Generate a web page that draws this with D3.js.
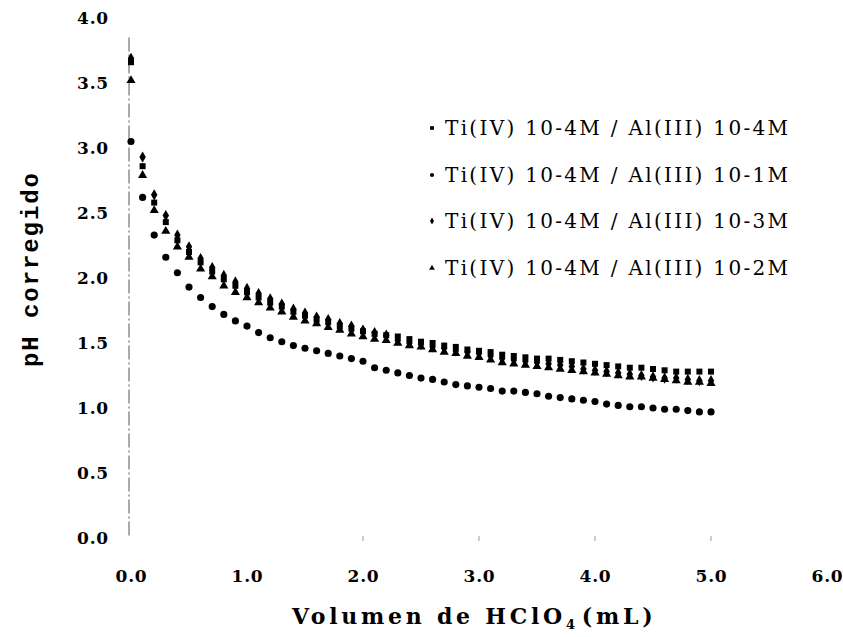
<!DOCTYPE html>
<html><head><meta charset="utf-8">
<script src="https://cdn.jsdelivr.net/npm/d3@7"></script>
<style>body{margin:0;background:#fff}svg{display:block}</style>
</head><body>
<script>
const xVals = [0.0,0.1,0.2,0.3,0.4,0.5,0.6,0.7,0.8,0.9,1.0,1.1,1.2,1.3,1.4,1.5,1.6,1.7,1.8,1.9,2.0,2.1,2.2,2.3,2.4,2.5,2.6,2.7,2.8,2.9,3.0,3.1,3.2,3.3,3.4,3.5,3.6,3.7,3.8,3.9,4.0,4.1,4.2,4.3,4.4,4.5,4.6,4.7,4.8,4.9,5.0];
const seriesNames = ["Ti(IV) 10-4M / Al(III) 10-4M","Ti(IV) 10-4M / Al(III) 10-1M","Ti(IV) 10-4M / Al(III) 10-3M","Ti(IV) 10-4M / Al(III) 10-2M"];
const al4 = [3.66,2.86,2.58,2.43,2.29,2.20,2.12,2.05,1.99,1.94,1.89,1.85,1.81,1.78,1.74,1.71,1.68,1.66,1.63,1.61,1.59,1.57,1.56,1.55,1.53,1.51,1.50,1.48,1.47,1.45,1.44,1.43,1.41,1.40,1.39,1.38,1.38,1.37,1.36,1.35,1.34,1.33,1.32,1.31,1.31,1.30,1.29,1.28,1.28,1.28,1.28];
const al1 = [3.05,2.62,2.33,2.16,2.04,1.93,1.85,1.78,1.72,1.67,1.63,1.58,1.54,1.51,1.48,1.46,1.44,1.42,1.40,1.38,1.36,1.31,1.29,1.27,1.25,1.23,1.22,1.20,1.18,1.17,1.16,1.15,1.13,1.13,1.12,1.11,1.09,1.08,1.07,1.06,1.05,1.03,1.02,1.01,1.01,1.00,0.99,0.99,0.98,0.97,0.97];
const al3 = [3.69,2.93,2.64,2.48,2.33,2.24,2.15,2.08,2.02,1.97,1.92,1.88,1.84,1.80,1.76,1.73,1.70,1.68,1.65,1.63,1.60,1.58,1.56,1.52,1.50,1.49,1.47,1.46,1.44,1.43,1.42,1.40,1.38,1.37,1.36,1.35,1.34,1.33,1.32,1.30,1.29,1.28,1.27,1.26,1.25,1.24,1.23,1.23,1.22,1.21,1.21];
const al2 = [3.52,2.79,2.52,2.36,2.24,2.16,2.07,2.01,1.94,1.89,1.85,1.81,1.77,1.74,1.70,1.67,1.65,1.62,1.60,1.57,1.55,1.53,1.52,1.50,1.48,1.47,1.45,1.43,1.42,1.40,1.39,1.37,1.35,1.34,1.33,1.32,1.31,1.30,1.29,1.28,1.27,1.26,1.25,1.24,1.24,1.23,1.22,1.21,1.20,1.20,1.19];
const xTicks = [0,1,2,3,4,5,6];
const yTicks = [0,0.5,1,1.5,2,2.5,3,3.5,4];

const W = 843, H = 637;
const svg = d3.select("body").append("svg").attr("width", W).attr("height", H);
const x = d3.scaleLinear().domain([0, 6]).range([131, 827]);
const y = d3.scaleLinear().domain([0, 4]).range([538, 18]);

const serif = "'DejaVu Serif', serif";

// y axis dashed line
svg.append("line").attr("x1", 129).attr("x2", 129).attr("y1", y(3.85)).attr("y2", y(0))
  .attr("stroke", "#555").attr("stroke-width", 1).attr("stroke-dasharray", "14,3,2,3");

// faint x ticks
svg.append("g").selectAll("line").data([2,3,4,5]).join("line")
  .attr("x1", d => x(d)).attr("x2", d => x(d)).attr("y1", y(0) - 2).attr("y2", y(0) + 3)
  .attr("stroke", "#999").attr("stroke-width", 1);

const yAxis = svg.append("g").attr("transform", "translate(131,0)")
  .call(d3.axisLeft(y).tickValues(yTicks).tickSize(0).tickPadding(22).tickFormat(d3.format(".1f")));
yAxis.select(".domain").remove();
yAxis.selectAll("text").attr("font-family", serif).attr("font-weight", "bold").attr("font-size", 17)
  .attr("letter-spacing", 0.8).attr("fill", "#000");

const xAxis = svg.append("g").attr("transform", "translate(0,538)")
  .call(d3.axisBottom(x).tickValues(xTicks).tickSize(0).tickPadding(32).tickFormat(d3.format(".1f")));
xAxis.select(".domain").remove();
xAxis.selectAll("text").attr("font-family", serif).attr("font-weight", "bold").attr("font-size", 17)
  .attr("letter-spacing", 0.8).attr("fill", "#000");

// titles
svg.append("text").attr("transform", "translate(38,270) rotate(-90)").attr("text-anchor", "middle")
  .attr("font-family", "'Liberation Mono', monospace").attr("font-weight", "bold").attr("font-size", 24)
  .attr("textLength", 194).attr("lengthAdjust", "spacing").text("pH corregido");

const xt = svg.append("text").attr("x", 292).attr("y", 624)
  .attr("font-family", serif).attr("font-weight", "bold").attr("font-size", 22);
xt.append("tspan").text("Volumen de HClO");
xt.append("tspan").attr("font-size", 13).attr("dy", 5).text("4");
xt.append("tspan").attr("dy", -5).attr("dx", 3).text("(mL)");
const bb = xt.node().getBBox();
xt.attr("letter-spacing", Math.max(0, (369 - bb.width) / 21).toFixed(2));

const series = [
  {name: seriesNames[0], vals: al4, sym: d3.symbolSquare, size: 36},
  {name: seriesNames[1], vals: al1, sym: d3.symbolCircle, size: 40},
  {name: seriesNames[2], vals: al3, sym: d3.symbolDiamond, size: 36},
  {name: seriesNames[3], vals: al2, sym: d3.symbolTriangle, size: 36}
];

series.forEach(s => {
  svg.append("g").selectAll("path").data(s.vals).join("path")
    .attr("transform", (d, i) => `translate(${x(xVals[i])},${y(d)})`)
    .attr("d", d3.symbol().type(s.sym).size(s.size)).attr("fill", "#000");
});

// legend
const legY = [128, 175, 221, 268];
const lg = svg.append("g");
series.forEach((s, i) => {
  lg.append("path").attr("transform", `translate(432,${legY[i]})`)
    .attr("d", d3.symbol().type(s.sym).size(14)).attr("fill", "#000");
  lg.append("text").attr("x", 445).attr("y", legY[i] + 7).attr("font-family", serif)
    .attr("font-size", 20).attr("textLength", 343).attr("lengthAdjust", "spacing").text(s.name);
});
</script>
</body></html>
